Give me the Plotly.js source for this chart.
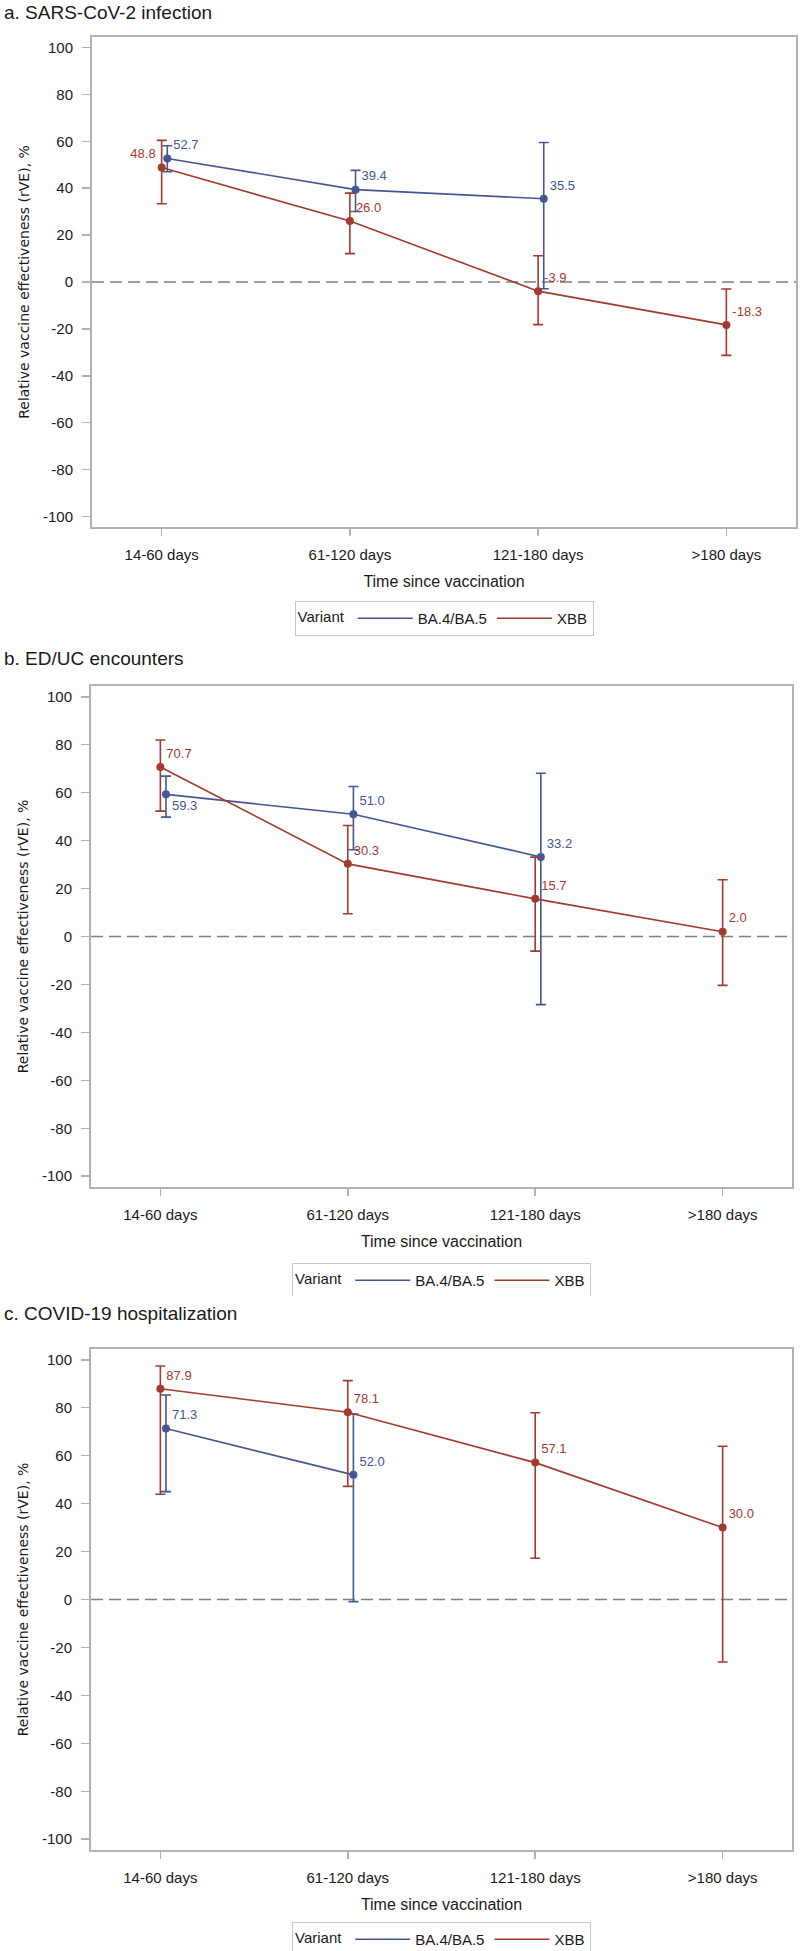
<!DOCTYPE html>
<html>
<head>
<meta charset="utf-8">
<script src="https://cdn.plot.ly/plotly-3.0.1.min.js"></script>
<style>
  html, body { margin: 0; padding: 0; background: #fff; }
  #wrap { position: relative; width: 800px; height: 1951px; overflow: hidden; }
  .panel { position: absolute; left: 0; width: 800px; }
</style>
</head>
<body>
<div id="wrap">
  <div id="pa" class="panel" style="top:0px;height:646px"></div>
  <div id="pb" class="panel" style="top:646px;height:650px"></div>
  <div id="pc" class="panel" style="top:1296px;height:655px"></div>
</div>
<script>
// ---------- data ----------
const categories = ['14-60 days', '61-120 days', '121-180 days', '>180 days'];
const seriesNames = ['BA.4/BA.5', 'XBB'];

// a. SARS-CoV-2 infection
const aBA_est = [52.7, 39.4, 35.5, null];
const aBA_lo  = [47.0, 30.1, -2.9, null];
const aBA_hi  = [58.1, 47.6, 59.5, null];
const aXBB_est = [48.8, 26.0, -3.9, -18.3];
const aXBB_lo  = [33.4, 12.1, -18.2, -31.3];
const aXBB_hi  = [60.4, 37.9, 11.2, -3.0];

// b. ED/UC encounters
const bBA_est = [59.3, 51.0, 33.2, null];
const bBA_lo  = [49.8, 36.2, -28.4, null];
const bBA_hi  = [66.9, 62.6, 68.1, null];
const bXBB_est = [70.7, 30.3, 15.7, 2.0];
const bXBB_lo  = [52.3, 9.5, -6.1, -20.4];
const bXBB_hi  = [82.0, 46.3, 33.1, 23.7];

// c. COVID-19 hospitalization
const cBA_est = [71.3, 52.0, null, null];
const cBA_lo  = [45.0, -0.9, null, null];
const cBA_hi  = [85.3, 77.4, null, null];
const cXBB_est = [87.9, 78.1, 57.1, 30.0];
const cXBB_lo  = [43.9, 47.2, 17.2, -26.1];
const cXBB_hi  = [97.4, 91.3, 77.9, 63.9];

const yTicks = [-100, -80, -60, -40, -20, 0, 20, 40, 60, 80, 100];
const yTickLabels = ['-100', '-80', '-60', '-40', '-20', '0', '20', '40', '60', '80', '100'];

// ---------- styling ----------
const BLUE = '#445694';
const RED = '#A23A2E';
const FRAME = '#aeb3b8';
const TXT = '#1a1a1a';
const FONT = 'Liberation Sans, Arial, sans-serif';

function fmt(v) { return v == null ? '' : v.toFixed(1); }

function seriesTraces(name, color, est, lo, hi, offset, textpos, showLegend) {
  const x = categories.map((c, i) => i + offset);
  const line = {
    type: 'scatter', mode: 'lines', name: name, x: x, y: est,
    line: { color: color, width: 1.6 }, connectgaps: false,
    showlegend: showLegend, legendgroup: name, hoverinfo: 'skip'
  };
  const pts = {
    type: 'scatter', mode: 'markers+text', name: name, x: x, y: est,
    marker: { color: color, size: 8 },
    text: est.map(fmt), textposition: textpos,
    textfont: { family: FONT, size: 13, color: color },
    error_y: {
      type: 'data', symmetric: false,
      array: est.map((v, i) => v == null ? null : hi[i] - v),
      arrayminus: est.map((v, i) => v == null ? null : v - lo[i]),
      color: color, thickness: 1.6, width: 5
    },
    showlegend: false, legendgroup: name, cliponaxis: false
  };
  return [line, pts];
}

function panelLayout(title, H, m, titleY, legendTop) {
  return {
    width: 800, height: H,
    margin: m,
    paper_bgcolor: '#fff', plot_bgcolor: '#fff',
    font: { family: FONT, color: TXT },
    title: {
      text: title, font: { family: FONT, size: 19, color: TXT },
      xref: 'container', x: 4 / 800, xanchor: 'left',
      yref: 'container', y: 1 - titleY / H, yanchor: 'middle'
    },
    xaxis: {
      range: [-0.37, 3.37], tickmode: 'array', tickvals: [0, 1, 2, 3], ticktext: categories,
      ticks: 'outside', ticklen: 7, tickwidth: 1.5, tickcolor: FRAME,
      ticklabelstandoff: 6,
      showline: true, mirror: true, linecolor: FRAME, linewidth: 2,
      showgrid: false, zeroline: false,
      tickfont: { family: FONT, size: 15, color: TXT },
      title: { text: 'Time since vaccination', font: { family: FONT, size: 16, color: TXT }, standoff: 14 },
      automargin: false
    },
    yaxis: {
      range: [-104.5, 104.5], tickmode: 'array', tickvals: yTicks, ticktext: yTickLabels,
      ticks: 'outside', ticklen: 8, tickwidth: 1.5, tickcolor: FRAME,
      ticklabelstandoff: 6,
      showline: true, mirror: true, linecolor: FRAME, linewidth: 2,
      showgrid: false, zeroline: false,
      tickfont: { family: FONT, size: 15, color: TXT },
      title: { text: 'Relative vaccine effectiveness (rVE), %', font: { family: 'DejaVu Sans, Verdana, sans-serif', size: 14, color: TXT }, standoff: 10 },
      automargin: false
    },
    shapes: [{
      type: 'line', xref: 'paper', x0: 0, x1: 1, yref: 'y', y0: 0, y1: 0,
      line: { color: '#808080', width: 1.6, dash: '12px,6px' }, layer: 'below'
    }],
    showlegend: true,
    legend: {
      orientation: 'h', xref: 'paper', x: 0.5, xanchor: 'center',
      yref: 'container', y: 1 - legendTop / H, yanchor: 'top',
      title: { text: 'Variant', side: 'left', font: { family: FONT, size: 15, color: TXT } },
      font: { family: FONT, size: 15, color: TXT },
      bordercolor: '#c8c8c8', borderwidth: 1, bgcolor: '#fff',
      itemwidth: 55, traceorder: 'normal'
    },
    hovermode: false
  };
}

const cfg = { staticPlot: true, displayModeBar: false };

// Panel a
Plotly.newPlot('pa', [].concat(
  seriesTraces(seriesNames[0], BLUE, aBA_est, aBA_lo, aBA_hi, 0.03, ['top right', 'top right', 'top right', 'top right'], true),
  seriesTraces(seriesNames[1], RED, aXBB_est, aXBB_lo, aXBB_hi, 0, ['top left', 'top right', 'top right', 'top right'], true)
), panelLayout('a. SARS-CoV-2 infection', 646, { l: 92, r: 4, t: 37, b: 119 }, 12, 601), cfg);

// Panel b
Plotly.newPlot('pb', [].concat(
  seriesTraces(seriesNames[0], BLUE, bBA_est, bBA_lo, bBA_hi, 0.03, ['bottom right', 'top right', 'top right', 'top right'], true),
  seriesTraces(seriesNames[1], RED, bXBB_est, bXBB_lo, bXBB_hi, 0, ['top right', 'top right', 'top right', 'top right'], true)
), panelLayout('b. ED/UC encounters', 650, { l: 91, r: 8, t: 40, b: 109 }, 12, 617), cfg);

// Panel c
Plotly.newPlot('pc', [].concat(
  seriesTraces(seriesNames[0], BLUE, cBA_est, cBA_lo, cBA_hi, 0.03, ['top right', 'top right', 'top right', 'top right'], true),
  seriesTraces(seriesNames[1], RED, cXBB_est, cXBB_lo, cXBB_hi, 0, ['top right', 'top right', 'top right', 'top right'], true)
), panelLayout('c. COVID-19 hospitalization', 655, { l: 91, r: 8, t: 53, b: 101 }, 17, 626), cfg);
</script>
</body>
</html>
